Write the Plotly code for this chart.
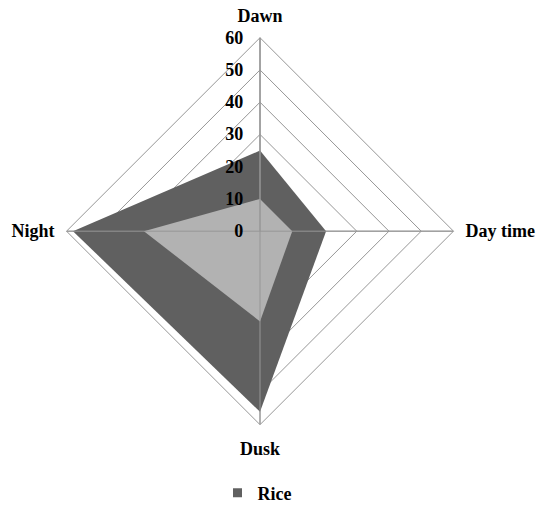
import plotly.graph_objects as go

categories = ["Dawn", "Day time", "Dusk", "Night"]
rice = [25, 20.5, 56, 58]
other = [10, 10, 28, 36]
tick_vals = [0, 10, 20, 30, 40, 50, 60]

FONT = "Liberation Serif, Times New Roman, serif"
DARK = "rgb(96,96,96)"
LIGHT = "rgb(178,178,178)"
GRID = "rgb(150,150,150)"

fig = go.Figure()
fig.add_trace(go.Scatterpolar(
    r=rice + rice[:1], theta=categories + categories[:1], fill="toself",
    fillcolor=DARK, mode="none", name="Rice", showlegend=False))
fig.add_trace(go.Scatterpolar(
    r=other + other[:1], theta=categories + categories[:1], fill="toself",
    fillcolor=LIGHT, mode="none", name="", showlegend=False))
# spokes drawn over the fills
for c in categories:
    fig.add_trace(go.Scatterpolar(
        r=[0, tick_vals[-1]], theta=[c, c], mode="lines",
        line=dict(color=GRID, width=1),
        showlegend=False, hoverinfo="skip"))
# legend entry
fig.add_trace(go.Scatterpolar(
    r=[None], theta=[categories[0]], mode="markers", name="Rice",
    marker=dict(symbol="square", size=9, color=DARK), showlegend=True))

fig.update_layout(
    width=538, height=512,
    margin=dict(l=0, r=0, t=0, b=0),
    paper_bgcolor="white",
    font=dict(family=FONT, size=18, color="black"),
    polar=dict(
        domain=dict(x=[65/538, 455/538], y=[1-428/512, 1-38/512]),
        bgcolor="white",
        gridshape="linear",
        radialaxis=dict(
            range=[0, 60], tickvals=tick_vals, angle=90, tickangle=90,
            side="counterclockwise",
            showline=True, linecolor=GRID, linewidth=1,
            gridcolor=GRID, gridwidth=1,
            ticks="outside", ticklen=10, tickcolor="rgba(0,0,0,0)",
            tickfont=dict(family=FONT, size=18, color="black", weight="bold"),
        ),
        angularaxis=dict(
            rotation=90, direction="clockwise",
            showline=True, linecolor=GRID, linewidth=1,
            gridcolor=GRID, ticks="outside", ticklen=8, tickcolor="rgba(0,0,0,0)",
            tickfont=dict(family=FONT, size=18, color="black", weight="bold"),
        ),
    ),
    legend=dict(orientation="h", x=0.5 - 12/538, xanchor="center", y=1-497/512, yanchor="middle",
                font=dict(family=FONT, size=18, color="black", weight="bold"),
                itemwidth=30),
)
fig.write_html("out.html")
